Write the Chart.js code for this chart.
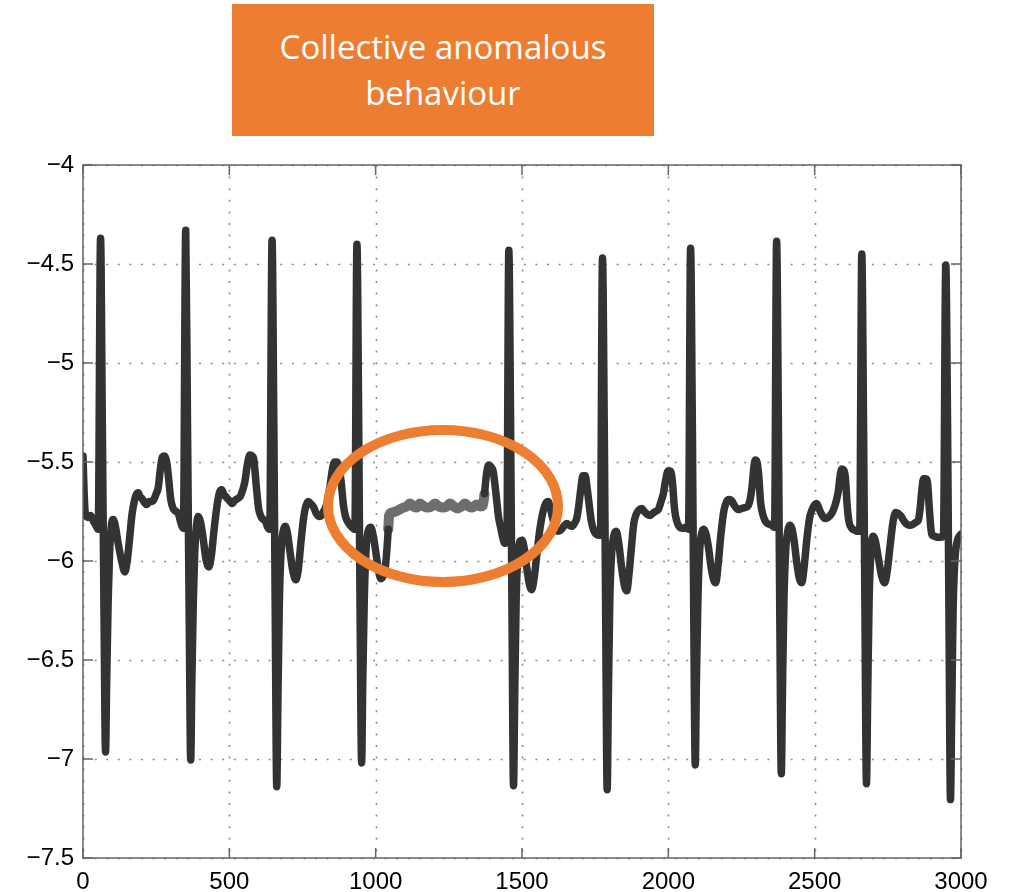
<!DOCTYPE html>
<html>
<head>
<meta charset="utf-8">
<script src="https://cdn.jsdelivr.net/npm/chart.js@4.4.1/dist/chart.umd.min.js"></script>
<style>
    body { margin: 0; background: #fff; }
    #wrap { position: relative; width: 1015px; height: 892px; }
    #label {
        position: absolute; left: 232px; top: 4px; width: 422px; height: 132px;
        background: #ED7D31; color: #fff; text-align: center;
        font-family: "Open Sans", sans-serif; font-size: 33px; line-height: 46px;
        box-sizing: border-box; padding-top: 20px;
    }
</style>
</head>
<body>
<div id="wrap">
    <canvas id="ecgChart" width="1015" height="892"></canvas>
    <div id="label">Collective anomalous<br>behaviour</div>
</div>
<script>
// ECG trace, [sample, amplitude]; the flat grey stretch is the anomaly
const ecgBefore = [
    [0,-5.47],[4,-5.66],[8,-5.76],[16,-5.78],[26,-5.77],[36,-5.8],[44,-5.82],[52,-5.84],
    [60,-4.37],[66,-5.3],[72,-6.3],[77,-6.965],[81,-6.6],[86,-6.2],[91,-5.95],[97,-5.82],[103,-5.79],[110,-5.82],[120,-5.91],[132,-6.0],[143,-6.055],[151,-6.0],[159,-5.89],[167,-5.77],[175,-5.7],[182,-5.665],[189,-5.655],[195,-5.675],[202,-5.685],[210,-5.705],[218,-5.715],[226,-5.7],[234,-5.7],[242,-5.69],[250,-5.66],[257,-5.63],[264,-5.54],[271,-5.475],[279,-5.47],[286,-5.5],[293,-5.59],[300,-5.69],[308,-5.735],[318,-5.75],[326,-5.76],[333,-5.8],[343,-5.835],
    [351,-4.33],[357,-5.3],[363,-6.3],[368,-7.005],[372,-6.6],[377,-6.2],[382,-5.95],[388,-5.82],[394,-5.775],[401,-5.8],[410,-5.88],[420,-5.99],[430,-6.03],[438,-5.98],[448,-5.84],[458,-5.72],[466,-5.655],[474,-5.64],[482,-5.665],[491,-5.68],[500,-5.695],[510,-5.71],[518,-5.695],[528,-5.685],[537,-5.675],[545,-5.645],[553,-5.6],[562,-5.51],[570,-5.465],[578,-5.47],[584,-5.49],[592,-5.62],[600,-5.735],[608,-5.775],[616,-5.79],[624,-5.8],[631,-5.83],[638,-5.84],
    [646,-4.38],[652,-5.3],[657,-6.3],[662,-7.14],[666,-6.7],[671,-6.2],[677,-5.95],[684,-5.85],[691,-5.825],[698,-5.855],[707,-5.95],[717,-6.05],[727,-6.095],[735,-6.05],[745,-5.9],[754,-5.78],[762,-5.72],[770,-5.7],[778,-5.71],[787,-5.725],[797,-5.76],[806,-5.775],[815,-5.77],[822,-5.75],[830,-5.725],[838,-5.68],[846,-5.6],[853,-5.53],[860,-5.5],[868,-5.5],[874,-5.52],[882,-5.6],[890,-5.72],[897,-5.775],[906,-5.805],[916,-5.825],[929,-5.84],
    [936,-4.4],[942,-5.3],[947,-6.3],[952,-7.02],[956,-6.6],[961,-6.2],[967,-5.95],[974,-5.85],[983,-5.83],[992,-5.875],[1001,-5.96],[1010,-6.05],[1018,-6.09],[1026,-6.075],[1033,-6.03],[1039,-5.93],[1043,-5.84]
];

const anomalySegment = [
    [1043,-5.84],[1046,-5.77],[1055,-5.755],[1068,-5.75],[1082,-5.74],[1095,-5.73],[1106,-5.725],[1117,-5.71],[1130,-5.725],[1140,-5.73],[1151,-5.71],[1165,-5.725],[1178,-5.73],[1190,-5.725],[1203,-5.71],[1216,-5.725],[1230,-5.73],[1242,-5.725],[1254,-5.71],[1268,-5.725],[1280,-5.735],[1293,-5.725],[1305,-5.71],[1318,-5.725],[1330,-5.73],[1345,-5.715],[1358,-5.725],[1366,-5.72],[1372,-5.66]
];

const ecgAfter = [
    [1372,-5.66],[1378,-5.57],[1386,-5.515],[1394,-5.525],[1402,-5.55],[1408,-5.62],[1414,-5.7],[1420,-5.78],[1427,-5.83],[1434,-5.88],[1441,-5.91],[1448,-5.9],
    [1455,-4.43],[1461,-5.3],[1466,-6.3],[1471,-7.135],[1475,-6.7],[1480,-6.2],[1486,-5.98],[1493,-5.9],[1500,-5.895],[1507,-5.93],[1515,-6.02],[1524,-6.11],[1533,-6.145],[1542,-6.08],[1552,-5.95],[1562,-5.83],[1572,-5.75],[1581,-5.71],[1589,-5.7],[1597,-5.735],[1606,-5.79],[1615,-5.835],[1625,-5.85],[1635,-5.84],[1645,-5.82],[1653,-5.81],[1662,-5.82],[1670,-5.825],[1679,-5.81],[1687,-5.785],[1694,-5.72],[1701,-5.635],[1708,-5.57],[1716,-5.57],[1722,-5.625],[1729,-5.71],[1737,-5.8],[1745,-5.845],[1754,-5.865],[1762,-5.87],[1768,-5.87],
    [1775,-4.47],[1781,-5.3],[1786,-6.3],[1791,-7.155],[1795,-6.7],[1800,-6.2],[1806,-5.97],[1814,-5.87],[1822,-5.85],[1831,-5.915],[1841,-6.04],[1851,-6.13],[1858,-6.15],[1866,-6.06],[1874,-5.93],[1882,-5.81],[1890,-5.765],[1898,-5.745],[1909,-5.735],[1918,-5.75],[1928,-5.765],[1937,-5.77],[1946,-5.76],[1956,-5.75],[1966,-5.74],[1975,-5.7],[1983,-5.66],[1991,-5.59],[1999,-5.545],[2007,-5.545],[2014,-5.6],[2021,-5.735],[2029,-5.8],[2039,-5.83],[2049,-5.835],[2059,-5.83],[2069,-5.84],
    [2076,-4.42],[2082,-5.3],[2087,-6.3],[2092,-7.03],[2096,-6.6],[2101,-6.2],[2107,-5.95],[2114,-5.86],[2121,-5.84],[2128,-5.86],[2137,-5.93],[2147,-6.04],[2156,-6.1],[2162,-6.11],[2170,-6.02],[2180,-5.86],[2190,-5.745],[2199,-5.7],[2208,-5.69],[2216,-5.695],[2226,-5.72],[2239,-5.74],[2250,-5.735],[2262,-5.73],[2273,-5.72],[2280,-5.685],[2286,-5.625],[2292,-5.53],[2297,-5.49],[2303,-5.5],[2309,-5.57],[2315,-5.7],[2322,-5.76],[2330,-5.795],[2338,-5.81],[2346,-5.815],[2354,-5.82],[2363,-5.83],
    [2370,-4.385],[2376,-5.3],[2381,-6.3],[2386,-7.075],[2390,-6.65],[2395,-6.2],[2401,-5.95],[2408,-5.85],[2415,-5.82],[2422,-5.835],[2430,-5.9],[2439,-6.01],[2448,-6.09],[2456,-6.11],[2464,-6.03],[2474,-5.88],[2483,-5.78],[2490,-5.745],[2498,-5.72],[2507,-5.71],[2516,-5.74],[2526,-5.77],[2535,-5.785],[2546,-5.78],[2558,-5.76],[2566,-5.735],[2574,-5.695],[2581,-5.645],[2587,-5.57],[2593,-5.535],[2599,-5.54],[2605,-5.58],[2611,-5.72],[2617,-5.8],[2627,-5.835],[2638,-5.845],[2647,-5.85],[2654,-5.85],
    [2661,-4.45],[2667,-5.3],[2672,-6.3],[2677,-7.125],[2681,-6.7],[2686,-6.2],[2692,-5.96],[2699,-5.875],[2706,-5.89],[2716,-5.97],[2728,-6.07],[2739,-6.11],[2748,-6.05],[2758,-5.92],[2768,-5.8],[2777,-5.755],[2786,-5.76],[2796,-5.775],[2806,-5.8],[2816,-5.815],[2826,-5.82],[2836,-5.815],[2846,-5.805],[2854,-5.795],[2860,-5.74],[2866,-5.645],[2872,-5.585],[2880,-5.585],[2886,-5.61],[2892,-5.74],[2900,-5.865],[2910,-5.875],[2920,-5.88],[2930,-5.88],[2940,-5.875],
    [2948,-4.505],[2954,-5.3],[2959,-6.3],[2964,-7.205],[2968,-6.8],[2973,-6.25],[2979,-6.0],[2987,-5.9],[2994,-5.875],[3000,-5.865]
];

const xTicks = [0, 500, 1000, 1500, 2000, 2500, 3000];
const yTicks = [-4, -4.5, -5, -5.5, -6, -6.5, -7, -7.5];

// ring around the anomaly, in data units
const ringCenter = [1230, -5.722];
const ringRadius = [393, 0.384];

const toPoints = rows => rows.map(r => ({x: r[0], y: r[1]}));

// dotted grid behind the trace
const dottedGrid = {
    id: 'dottedGrid',
    beforeDatasetsDraw(chart) {
        var ctx = chart.ctx, a = chart.chartArea;
        var x = chart.scales.x, y = chart.scales.y;
        ctx.save();
        ctx.strokeStyle = '#8c8c8c';
        ctx.lineWidth = 1.6;
        ctx.setLineDash([2, 9.6]);
        for (let v of xTicks) {
            var px = Math.round(x.getPixelForValue(v)) + 0.5;
            ctx.beginPath(); ctx.moveTo(px, a.top); ctx.lineTo(px, a.bottom); ctx.stroke();
        }
        for (let v of yTicks) {
            var py = Math.round(y.getPixelForValue(v)) + 0.5;
            ctx.beginPath(); ctx.moveTo(a.left, py); ctx.lineTo(a.right, py); ctx.stroke();
        }
        ctx.restore();
    }
};

// box, inward ticks on all four sides, then the orange ring on top
const boxAndRing = {
    id: 'boxAndRing',
    afterDatasetsDraw(chart) {
        var ctx = chart.ctx, a = chart.chartArea;
        var x = chart.scales.x, y = chart.scales.y;
        var len = 10;
        ctx.save();
        ctx.strokeStyle = '#666';
        ctx.lineWidth = 1.5;
        ctx.strokeRect(a.left, a.top, a.right - a.left, a.bottom - a.top);
        ctx.beginPath();
        for (let v of xTicks) {
            var px = x.getPixelForValue(v);
            ctx.moveTo(px, a.bottom); ctx.lineTo(px, a.bottom - len);
            ctx.moveTo(px, a.top); ctx.lineTo(px, a.top + len);
        }
        for (let v of yTicks) {
            var py = y.getPixelForValue(v);
            ctx.moveTo(a.left, py); ctx.lineTo(a.left + len, py);
            ctx.moveTo(a.right, py); ctx.lineTo(a.right - len, py);
        }
        ctx.stroke();

        var cx = x.getPixelForValue(ringCenter[0]);
        var cy = y.getPixelForValue(ringCenter[1]);
        var rx = Math.abs(x.getPixelForValue(ringCenter[0] + ringRadius[0]) - cx);
        var ry = Math.abs(y.getPixelForValue(ringCenter[1] + ringRadius[1]) - cy);
        ctx.strokeStyle = '#ED7D31';
        ctx.lineWidth = 10;
        ctx.beginPath();
        ctx.ellipse(cx, cy, rx, ry, 0, 0, Math.PI * 2);
        ctx.stroke();
        ctx.restore();
    }
};

var tickFont = {family: "'Liberation Sans', Arial, sans-serif", size: 24};
var lineStyle = {
    pointRadius: 0, borderJoinStyle: 'round', borderCapStyle: 'round',
    cubicInterpolationMode: 'monotone', clip: 0
};

new Chart(document.getElementById('ecgChart'), {
    type: 'line',
    data: {
        datasets: [
            Object.assign({data: toPoints(ecgBefore), borderColor: '#333333', borderWidth: 7.5}, lineStyle),
            Object.assign({data: toPoints(ecgAfter), borderColor: '#333333', borderWidth: 7.5}, lineStyle),
            Object.assign({data: toPoints(anomalySegment), borderColor: '#6e6e6e', borderWidth: 10}, lineStyle)
        ]
    },
    options: {
        responsive: false,
        devicePixelRatio: 1,
        animation: false,
        layout: {padding: {top: 165, right: 54, left: 0, bottom: 0}},
        plugins: {legend: {display: false}, tooltip: {enabled: false}},
        scales: {
            x: {
                type: 'linear', min: 0, max: 3000,
                afterBuildTicks: s => { s.ticks = xTicks.map(v => ({value: v})); },
                afterFit: s => { s.height = 34; },
                grid: {display: false, drawTicks: false},
                border: {display: false},
                ticks: {
                    autoSkip: false, maxRotation: 0, padding: 10, color: '#000', font: tickFont,
                    callback: v => String(v)
                }
            },
            y: {
                type: 'linear', min: -7.5, max: -4,
                afterBuildTicks: s => { s.ticks = yTicks.map(v => ({value: v})); },
                afterFit: s => { s.width = 83; },
                grid: {display: false, drawTicks: false},
                border: {display: false},
                ticks: {
                    padding: 9, color: '#000', font: tickFont,
                    callback: v => String(v).replace('-', '\u2212')
                }
            }
        }
    },
    plugins: [dottedGrid, boxAndRing]
});
</script>
</body>
</html>
